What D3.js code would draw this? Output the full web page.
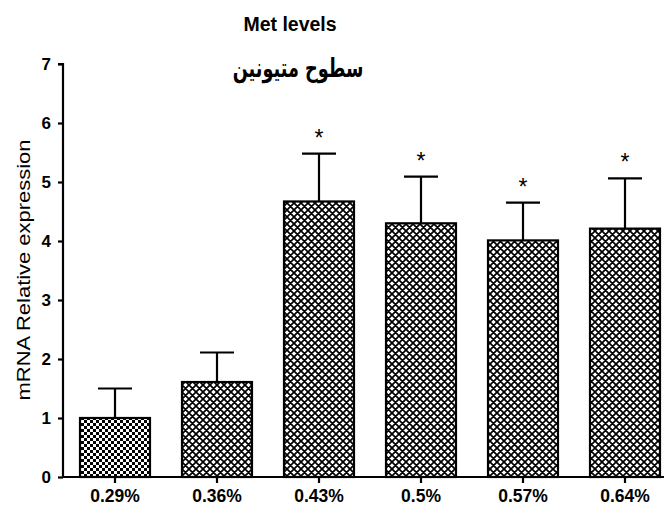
<!DOCTYPE html>
<html><head><meta charset="utf-8">
<script src="https://cdn.jsdelivr.net/npm/d3@7"></script>
<style>body{margin:0;background:#fff}</style>
</head><body>
<svg id="c" width="666" height="508"></svg>
<script>
const categories = ["0.29%","0.36%","0.43%","0.5%","0.57%","0.64%"];
const values = [1.0, 1.61, 4.67, 4.30, 4.01, 4.21];
const errors = [0.50, 0.50, 0.81, 0.79, 0.64, 0.85];
const significant = [false, false, true, true, true, true];
const patterns = ["check","cross","cross","cross","cross","cross"];
const yTicks = [0,1,2,3,4,5,6,7];

const svg = d3.select("#c");
const defs = svg.append("defs");
const pc = defs.append("pattern").attr("id","check").attr("patternUnits","userSpaceOnUse")
  .attr("width",6).attr("height",6);
pc.append("rect").attr("width",6).attr("height",6).attr("fill","#fff");
pc.append("rect").attr("width",3).attr("height",3).attr("fill","#000");
pc.append("rect").attr("x",3).attr("y",3).attr("width",3).attr("height",3).attr("fill","#000");
const px = defs.append("pattern").attr("id","cross").attr("patternUnits","userSpaceOnUse")
  .attr("width",7).attr("height",7);
px.append("rect").attr("width",7).attr("height",7).attr("fill","#fff");
px.append("path").attr("d","M-1,-1L8,8M-1,8L8,-1M-4.5,2.5L2.5,9.5M4.5,-2.5L11.5,4.5M-4.5,4.5L2.5,-2.5M4.5,9.5L11.5,2.5")
  .attr("stroke","#000").attr("stroke-width",1.7);

const y = d3.scaleLinear().domain([0,7]).range([477,64]);
const x = d3.scaleBand().domain(categories).range([64,676]).paddingInner(0.314).paddingOuter(0.157);
const FONT = "Liberation Sans, Arial, sans-serif";

svg.append("g").selectAll("rect").data(categories).join("rect")
  .attr("x", d=>x(d)).attr("width", x.bandwidth())
  .attr("y", (d,i)=>y(values[i])).attr("height",(d,i)=>y(0)-y(values[i]))
  .attr("fill",(d,i)=>`url(#${patterns[i]})`).attr("stroke","#000").attr("stroke-width",2.2);

const eg = svg.append("g").attr("stroke","#000").attr("stroke-width",2.2);
categories.forEach((c,i)=>{
  const cx = x(c)+x.bandwidth()/2;
  const top = y(values[i]+errors[i]);
  eg.append("line").attr("x1",cx).attr("x2",cx).attr("y1",y(values[i])).attr("y2",top);
  eg.append("line").attr("x1",cx-17).attr("x2",cx+17).attr("y1",top).attr("y2",top);
  if (significant[i]) {
    svg.append("text").attr("x",cx).attr("y",top-8)
      .attr("text-anchor","middle").attr("font-family",FONT)
      .attr("font-size",23).text("*");
  }
});

const yAxis = svg.append("g").attr("transform","translate(63,0)")
  .call(d3.axisLeft(y).tickValues(yTicks).tickSize(5).tickPadding(7).tickFormat(d3.format("d")));
const xAxis = svg.append("g").attr("transform","translate(0,477)")
  .call(d3.axisBottom(x).tickSize(6).tickSizeOuter(0));
[yAxis,xAxis].forEach(a=>{
  a.select(".domain").attr("stroke","#000").attr("stroke-width",2.2);
  a.selectAll(".tick line").attr("stroke","#000").attr("stroke-width",2.2);
  a.selectAll("text").attr("font-family",FONT).attr("font-weight","bold").attr("fill","#000");
});
yAxis.selectAll("text").attr("font-size",17);
xAxis.selectAll("text").attr("font-size",17.5).attr("dy",null).attr("y",25);
yAxis.select(".domain").attr("d","M-5,64H0V477");
xAxis.select(".domain").attr("d","M62,0H664");

svg.append("text").attr("transform","translate(30,270) rotate(-90) scale(1.22,1)").attr("text-anchor","middle")
  .attr("font-family",FONT).attr("font-size",18).attr("fill","#000")
  .text("mRNA Relative expression");

svg.append("text").attr("x",290).attr("y",31).attr("text-anchor","middle")
  .attr("font-family",FONT).attr("font-weight","bold").attr("font-size",19.5)
  .text("Met levels");
svg.append("text").attr("transform","translate(298,77) scale(0.68,1)").attr("text-anchor","middle").attr("direction","rtl")
  .attr("font-family","DejaVu Sans, sans-serif").attr("font-weight","bold").attr("font-size",26)
  .text("سطوح متیونین");
</script>
</body></html>
